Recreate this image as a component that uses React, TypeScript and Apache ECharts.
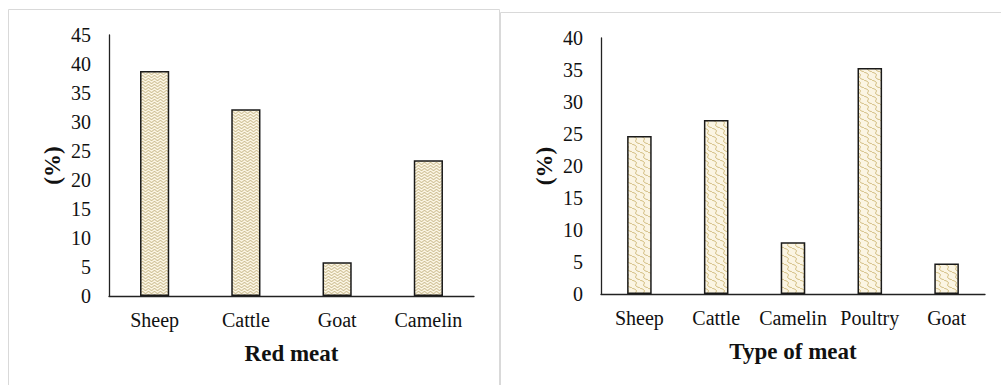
import React, { useEffect, useRef } from "react";
import * as echarts from "echarts";

// Red meat consumption shares
const redMeatCategories = ["Sheep", "Cattle", "Goat", "Camelin"];
const redMeatValues = [38.8, 32.2, 5.8, 23.4];

// Consumption shares by type of meat
const meatTypeCategories = ["Sheep", "Cattle", "Camelin", "Poultry", "Goat"];
const meatTypeValues = [24.7, 27.2, 8.1, 35.3, 4.75];

const FONT = "'Liberation Serif', 'Times New Roman', serif";
const TEXT = "#111";

// Small wavy texture tile used as bar fill
function makePattern(kind: "fine" | "coarse"): string {
  const c = document.createElement("canvas");
  const w = kind === "fine" ? 6 : 8;
  const h = kind === "fine" ? 3 : 8;
  c.width = w;
  c.height = h;
  const ctx = c.getContext("2d")!;
  ctx.fillStyle = "#fbf5e3";
  ctx.fillRect(0, 0, w, h);
  ctx.strokeStyle = kind === "fine" ? "#b8a46e" : "#c8b06a";
  ctx.lineWidth = 0.9;
  if (kind === "fine") {
    ctx.beginPath();
    for (let x = 0; x <= w; x += 0.5) {
      const y = 1.5 + Math.sin((x / w) * Math.PI * 2) * 0.9;
      if (x === 0) ctx.moveTo(x, y);
      else ctx.lineTo(x, y);
    }
    ctx.stroke();
  } else {
    for (let k = -1; k <= 1; k++) {
      ctx.beginPath();
      for (let y = 0; y <= h; y += 0.5) {
        const x = k * w + y + Math.sin((y / h) * Math.PI * 2) * 2;
        if (y === 0) ctx.moveTo(x, y);
        else ctx.lineTo(x, y);
      }
      ctx.stroke();
    }
  }
  return c.toDataURL();
}

export default function App() {
  const ref = useRef<HTMLDivElement>(null);

  useEffect(() => {
    if (!ref.current) return;
    const chart = echarts.init(ref.current, null, { renderer: "svg" });
    const fine = makePattern("fine");
    const coarse = makePattern("coarse");

    const axisLabel = { color: TEXT, fontFamily: FONT, fontSize: 20 };
    const nameStyle = { color: TEXT, fontFamily: FONT, fontSize: 23, fontWeight: "bold" as const };
    const axisLine = { show: true, lineStyle: { color: "#222", width: 1.3 } };

    chart.setOption({
      animation: false,
      backgroundColor: "#fff",
      graphic: [
        {
          type: "rect",
          shape: { x: 8.5, y: 9.5, width: 491, height: 400 },
          style: { fill: "none", stroke: "#d9d9d9", lineWidth: 1 },
          silent: true,
        },
        {
          type: "rect",
          shape: { x: 500.5, y: 12.5, width: 520, height: 400 },
          style: { fill: "none", stroke: "#d9d9d9", lineWidth: 1 },
          silent: true,
        },
      ],
      grid: [
        { left: 109, top: 35, width: 365, height: 261 },
        { left: 601, top: 38, width: 384, height: 256 },
      ],
      xAxis: [
        {
          type: "category",
          gridIndex: 0,
          data: redMeatCategories,
          axisLine,
          axisTick: { show: false },
          axisLabel: { ...axisLabel, margin: 14, interval: 0 },
          name: "Red meat",
          nameLocation: "middle",
          nameGap: 46,
          nameTextStyle: nameStyle,
        },
        {
          type: "category",
          gridIndex: 1,
          data: meatTypeCategories,
          axisLine,
          axisTick: { show: false },
          axisLabel: { ...axisLabel, margin: 14, interval: 0 },
          name: "Type of meat",
          nameLocation: "middle",
          nameGap: 46,
          nameTextStyle: nameStyle,
        },
      ],
      yAxis: [
        {
          type: "value",
          gridIndex: 0,
          min: 0,
          max: 45,
          interval: 5,
          axisLine,
          axisTick: { show: false },
          splitLine: { show: false },
          axisLabel: { ...axisLabel, margin: 18 },
          name: "(%)",
          nameLocation: "middle",
          nameGap: 45,
          nameTextStyle: nameStyle,
        },
        {
          type: "value",
          gridIndex: 1,
          min: 0,
          max: 40,
          interval: 5,
          axisLine,
          axisTick: { show: false },
          splitLine: { show: false },
          axisLabel: { ...axisLabel, margin: 18 },
          name: "(%)",
          nameLocation: "middle",
          nameGap: 45,
          nameTextStyle: nameStyle,
        },
      ],
      series: [
        {
          type: "bar",
          xAxisIndex: 0,
          yAxisIndex: 0,
          data: redMeatValues,
          barWidth: "32%",
          itemStyle: {
            color: { image: fine, repeat: "repeat" },
            borderColor: "#1a1a1a",
            borderWidth: 1.5,
          },
        },
        {
          type: "bar",
          xAxisIndex: 1,
          yAxisIndex: 1,
          data: meatTypeValues,
          barWidth: "32%",
          itemStyle: {
            color: { image: coarse, repeat: "repeat" },
            borderColor: "#1a1a1a",
            borderWidth: 1.5,
          },
        },
      ],
    });

    return () => chart.dispose();
  }, []);

  return (
    <div
      ref={ref}
      style={{ position: "absolute", left: 0, top: 0, width: 1001, height: 385 }}
    />
  );
}
